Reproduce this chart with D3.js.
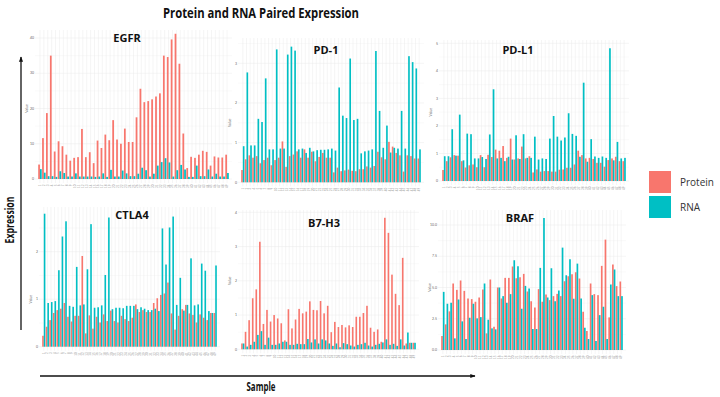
<!DOCTYPE html>
<meta charset="utf-8">
<head>
    <meta charset="utf-8">
    <title>Protein and RNA Paired Expression</title>
    <script src="https://d3js.org/d3.v7.min.js" charset="utf-8"></script>
    <style>
        html, body {
            margin: 0;
            padding: 0;
            background: #fff;
            font-family: Lato, "Open Sans", sans-serif;
        }
        .grid line { stroke: #ebebeb; stroke-width: 0.5px; }
        .grid line.minor { stroke: #f4f4f4; }
        .tick-label { font-size: 3.5px; fill: #666; }
        .x-label { font-size: 3px; fill: #9a9a9a; }
        .panel-title { font-family: "Open Sans", sans-serif; font-size: 11px; font-weight: bold; fill: #111; }
        .big-label { font-family: "Open Sans", sans-serif; font-weight: bold; fill: #111; }
        .legend text { font-family: "Open Sans", sans-serif; font-size: 10px; fill: #333; }
    </style>
</head>

<body>
<div id="chart"></div>

<script>

/****************************
 1. data
****************************/

const sampleLabels = ["1","2","3","4","5","6","7","8","9","10","11","12","13","14","15","16","17",
    "18","19","20","21","22","23","24","25","26","27","28","29","30","31","32","33","34","35","36",
    "37","38","39","40","41","42","43","44","45","46","47","48","49"];

const seriesNames = ["Protein", "RNA"];

const egfrProtein = [4.1,11.6,18.7,35,7.8,10.7,9.3,6.9,5.2,6.0, 6.2,14.2,6.2,7.6,4.5,10.9,8.8,12.6,11.0,16.7,
    11.2,10.0,14.3,10.5,10.5,17.5,25.6,21.8,22.1,22.6, 23.4,24.3,35,34.6,39.6,41.2,32.7,12.9,3.1,6.3,
    6.0,6.9,8.0,7.7,3.8,6.4,6.1,6.1,6.9];
const egfrRna = [2.8,1.8,0.8,0.8,0.6,2.2,1.7,0.7,0.7,1.6, 0.7,0.7,0.7,0.7,0.6,0.7,1.6,0.6,2.6,0.7,
    0.7,2.4,1.6,0.8,0.8,1.5,3.2,2.5,0.7,1.5, 3.8,4.8,5.9,4.7,0.7,2.5,4.0,2.7,0.6,0.6,
    3.8,0.8,0.8,2.7,0.7,1.5,0.7,0.7,1.7];
const egfrTicks = [0, 10, 20, 30, 40];

const pd1Protein = [0.31,0.58,0.68,0.62,0.66,0.48,0.56,0.62,0.43,0.56, 0.62,1.03,0.39,0.66,0.7,0.78,0.62,0.83,0.62,0.77,
    0.53,0.64,0.74,0.62,0.62,0.25,0.37,0.28,0.3,0.32, 0.29,0.28,0.33,0.33,0.4,0.37,0.41,0.77,0.63,0.58,
    1.02,0.9,0.74,0.68,0.27,0.68,0.66,0.6,0.6];
const pd1Rna = [0.91,2.77,0.93,0.93,1.6,1.52,2.62,0.83,0.83,3.35, 0.85,0.85,3.22,3.42,3.32,0.83,0.85,0.74,0.87,0.78,
    0.81,0.82,0.82,0.83,0.85,0.8,2.39,1.68,1.62,3.12, 1.57,1.6,0.73,0.78,0.8,0.83,3.31,1.8,0.87,1.43,
    0.75,0.87,0.85,1.8,0.85,3.18,3.03,2.87,0.83];
const pd1Ticks = [0, 1, 2, 3];

const pdl1Protein = [0.4,0.72,0.86,0.94,0.92,0.72,0.49,0.57,0.6,0.5, 0.94,0.5,0.95,0.87,1.14,1.1,1.27,0.84,1.54,0.78,
    0.82,1.25,0.82,0.9,0.31,0.42,0.34,0.36,0.36,0.34, 0.34,0.41,0.42,0.48,0.48,0.6,1.1,0.94,0.82,0.84,
    0.8,0.66,0.66,0.52,0.76,0.82,0.88,0.72,0.72];
const pdl1Rna = [0.9,0.9,1.88,0.92,2.41,0.75,1.72,1.7,0.82,0.82, 0.87,0.8,1.69,3.33,0.82,0.84,0.72,0.88,0.78,1.66,
    0.8,1.7,0.84,0.84,1.61,0.78,0.82,0.8,1.54,2.36, 1.61,1.47,1.58,2.46,1.71,1.64,0.88,3.57,0.7,1.52,
    0.89,0.84,0.89,0.84,4.82,0.75,1.42,0.82,0.84];
const pdl1Ticks = [0, 1, 2, 3, 4, 5];

const ctla4Protein = [0.23,0.42,0.56,0.71,0.77,0.8,0.92,0.63,0.53,0.65, 0.65,1.91,0.28,0.66,0.38,0.63,0.51,0.68,0.54,0.76,
    0.54,0.51,0.65,0.58,0.54,0.61,0.89,0.73,0.77,0.73, 0.73,0.92,1.02,1.09,1.12,1.35,0.7,0.36,0.65,0.79,
    0.88,0.7,0.67,0.51,0.68,0.61,0.56,0.71,0.71];
const ctla4Rna = [2.8,0.92,0.94,0.96,1.61,2.32,2.64,0.86,0.84,1.68, 0.87,0.89,1.63,2.58,0.82,0.83,0.87,1.51,2.72,0.79,
    0.82,0.82,0.81,0.86,0.86,0.86,0.79,0.83,0.8,0.77, 0.77,0.8,0.75,2.49,1.73,2.51,2.74,0.88,1.45,0.76,
    0.88,1.86,0.87,0.89,1.75,1.6,0.75,0.71,1.71];
const ctla4Ticks = [0, 1, 2];

const b7h3Protein = [0.17,0.51,0.85,1.49,1.75,3.14,0.74,1.15,0.81,1.0, 0.9,0.76,0.26,1.17,0.61,0.87,1.18,1.05,1.1,1.4,
    1.15,1.14,1.41,1.05,1.27,0.5,0.8,0.65,0.71,0.64, 0.7,0.65,0.95,0.95,1.06,1.27,0.63,0.51,0.58,0.22,
    3.84,3.4,2.18,1.62,1.29,2.67,0.17,0.19,0.19];
const b7h3Rna = [0.17,0.08,0.13,0.22,0.42,0.53,0.13,0.34,0.13,0.13, 0.17,0.22,0.22,0.13,0.13,0.16,0.15,0.15,0.3,0.2,
    0.29,0.17,0.29,0.26,0.17,0.1,0.17,0.06,0.18,0.15, 0.11,0.08,0.13,0.15,0.19,0.11,0.08,0.13,0.16,0.2,
    0.29,0.13,0.16,0.1,0.29,0.11,0.49,0.19,0.19];
const b7h3Ticks = [0, 1, 2, 3, 4];

const brafProtein = [1.12,2.05,3.09,5.32,4.81,5.56,4.73,4.12,4.07,3.86, 4.2,4.84,1.33,5.64,1.86,5.0,4.12,5.77,5.77,6.68,
    5.74,5.82,6.09,4.68,3.9,3.4,4.87,3.86,4.44,3.99, 4.31,4.49,4.31,5.5,5.9,6.06,6.22,5.72,3.06,1.52,
    5.32,4.47,4.39,6.73,8.83,2.61,6.84,5.11,5.48];
const brafRna = [4.65,3.7,3.78,0.93,4.04,2.29,0.88,2.58,3.7,2.53, 2.63,5.32,2.42,1.73,1.65,5.0,4.31,3.78,4.47,7.18,
    6.7,3.3,5.13,4.92,1.68,1.68,6.57,10.56,4.2,6.54, 3.9,4.76,8.19,5.98,7.26,4.1,6.91,4.12,1.78,0.88,
    4.39,0.72,2.79,3.46,0.88,5.24,6.44,4.31,4.31];
const brafTicks = [0, 2.5, 5, 7.5, 10];


/****************************
 2. svg container
****************************/

const W = 720, H = 397;
const color = d3.scaleOrdinal().domain(seriesNames).range(["#F8766D", "#00BFC4"]);

const svg = d3.select("#chart").append("svg")
    .attr("width", W)
    .attr("height", H)
    .style("display", "block");

svg.append("defs").append("marker")
    .attr("id", "arrow")
    .attr("viewBox", "0 0 10 10")
    .attr("refX", 9).attr("refY", 5)
    .attr("markerWidth", 4).attr("markerHeight", 4)
    .attr("orient", "auto")
    .append("path")
    .attr("d", "M0,1 L10,5 L0,9 z")
    .attr("fill", "#111");

// panel layout (pixel boxes of each ggplot panel)
const panels = [
    {gene: "EGFR",  protein: egfrProtein,  rna: egfrRna,  ticks: egfrTicks,  fmt: d3.format("d"),
     x0: 38,  x1: 229, base: 179,   topY: 38,    gridTop: 30,  tx: 127, ty: 42},
    {gene: "PD-1",  protein: pd1Protein,   rna: pd1Rna,   ticks: pd1Ticks,   fmt: d3.format("d"),
     x0: 241, x1: 421, base: 182.3, topY: 63.3,  gridTop: 38,  tx: 326, ty: 54},
    {gene: "PD-L1", protein: pdl1Protein,  rna: pdl1Rna,  ticks: pdl1Ticks,  fmt: d3.format("d"),
     x0: 442, x1: 626, base: 181,   topY: 43.3,  gridTop: 40,  tx: 518, ty: 54},
    {gene: "CTLA4", protein: ctla4Protein, rna: ctla4Rna, ticks: ctla4Ticks, fmt: d3.format("d"),
     x0: 42,  x1: 217, base: 346.7, topY: 251.7, gridTop: 207, tx: 132, ty: 219},
    {gene: "B7-H3", protein: b7h3Protein,  rna: b7h3Rna,  ticks: b7h3Ticks,  fmt: d3.format("d"),
     x0: 241, x1: 416, base: 349.3, topY: 212.3, gridTop: 210, tx: 324, ty: 227},
    {gene: "BRAF",  protein: brafProtein,  rna: brafRna,  ticks: brafTicks,  fmt: d3.format(".1f"),
     x0: 441, x1: 623, base: 350,   topY: 225,   gridTop: 210, tx: 520, ty: 222}
];


/****************************
 3. draw each panel
****************************/

panels.forEach(p => {
    const g = svg.append("g").attr("class", "panel");

    const x = d3.scaleBand()
        .domain(sampleLabels)
        .range([p.x0, p.x1])
        .paddingInner(0.1)
        .paddingOuter(0.05);

    const xSub = d3.scaleBand()
        .domain(seriesNames)
        .range([0, x.bandwidth()]);

    const y = d3.scaleLinear()
        .domain([0, d3.max(p.ticks)])
        .range([p.base, p.topY]);

    const gridBottom = p.base + 4;
    const gridLeft = p.x0 - 3, gridRight = p.x1 + 3;

    // grid
    const grid = g.append("g").attr("class", "grid");
    const step = p.ticks[1] - p.ticks[0];
    const minor = p.ticks.slice(0, -1).map(t => t + step / 2)
        .concat([d3.max(p.ticks) + step / 2])
        .filter(t => y(t) > p.gridTop);
    grid.selectAll("line.minor").data(minor).join("line")
        .attr("class", "minor")
        .attr("x1", gridLeft).attr("x2", gridRight)
        .attr("y1", d => y(d)).attr("y2", d => y(d));
    grid.selectAll("line.major").data(p.ticks).join("line")
        .attr("class", "major")
        .attr("x1", gridLeft).attr("x2", gridRight)
        .attr("y1", d => y(d)).attr("y2", d => y(d));
    grid.selectAll("line.vert").data(sampleLabels).join("line")
        .attr("class", "vert")
        .attr("x1", d => x(d) + x.bandwidth() / 2)
        .attr("x2", d => x(d) + x.bandwidth() / 2)
        .attr("y1", p.gridTop).attr("y2", gridBottom);

    // bars
    const rows = sampleLabels.map((s, i) => ({
        sample: s,
        values: [{key: "Protein", v: p.protein[i]}, {key: "RNA", v: p.rna[i]}]
    }));

    g.append("g").selectAll("g").data(rows).join("g")
        .attr("transform", d => "translate(" + x(d.sample) + ",0)")
        .selectAll("rect").data(d => d.values).join("rect")
        .attr("x", d => xSub(d.key))
        .attr("width", xSub.bandwidth())
        .attr("y", d => y(d.v))
        .attr("height", d => y(0) - y(d.v))
        .attr("fill", d => color(d.key));

    // y tick labels
    g.append("g").selectAll("text").data(p.ticks).join("text")
        .attr("class", "tick-label")
        .attr("x", p.x0 - 4)
        .attr("y", d => y(d) + 1.2)
        .attr("text-anchor", "end")
        .text(d => p.fmt(d));

    // y axis title
    g.append("text")
        .attr("class", "tick-label")
        .attr("transform", "translate(" + (p.x0 - 10) + "," + ((p.base + p.topY) / 2) + ") rotate(-90)")
        .attr("text-anchor", "middle")
        .text("Value");

    // x tick labels
    g.append("g").selectAll("text").data(sampleLabels).join("text")
        .attr("class", "x-label")
        .attr("transform", d => "translate(" + (x(d) + x.bandwidth() / 2 + 1) + "," + (gridBottom + 1.5) + ") rotate(-90)")
        .attr("text-anchor", "end")
        .text(d => d);

    // panel title
    g.append("text")
        .attr("class", "panel-title")
        .attr("x", p.tx)
        .attr("y", p.ty)
        .attr("text-anchor", "middle")
        .text(p.gene);
});


/****************************
 4. titles, arrows, legend
****************************/

svg.append("text")
    .attr("class", "big-label")
    .attr("x", 261).attr("y", 18)
    .attr("text-anchor", "middle")
    .attr("textLength", 196)
    .attr("lengthAdjust", "spacingAndGlyphs")
    .style("font-size", "14.5px")
    .text("Protein and RNA Paired Expression");

svg.append("line")
    .attr("x1", 21).attr("y1", 330)
    .attr("x2", 21).attr("y2", 57)
    .attr("stroke", "#111").attr("stroke-width", 1.3)
    .attr("marker-end", "url(#arrow)");

svg.append("text")
    .attr("class", "big-label")
    .attr("transform", "translate(14,220) rotate(-90)")
    .attr("text-anchor", "middle")
    .attr("textLength", 47)
    .attr("lengthAdjust", "spacingAndGlyphs")
    .style("font-size", "12px")
    .text("Expression");

svg.append("line")
    .attr("x1", 40).attr("y1", 376)
    .attr("x2", 475).attr("y2", 376)
    .attr("stroke", "#111").attr("stroke-width", 1.3)
    .attr("marker-end", "url(#arrow)");

svg.append("text")
    .attr("class", "big-label")
    .attr("x", 261).attr("y", 391)
    .attr("text-anchor", "middle")
    .attr("textLength", 29)
    .attr("lengthAdjust", "spacingAndGlyphs")
    .style("font-size", "11.5px")
    .text("Sample");

const legend = svg.append("g").attr("class", "legend");
legend.selectAll("rect").data(seriesNames).join("rect")
    .attr("x", 649)
    .attr("y", (d, i) => 171 + i * 25)
    .attr("width", 22).attr("height", 22)
    .attr("fill", d => color(d));
legend.selectAll("text").data(seriesNames).join("text")
    .attr("x", 680)
    .attr("y", (d, i) => 186 + i * 25)
    .text(d => d);

</script>
</html>
